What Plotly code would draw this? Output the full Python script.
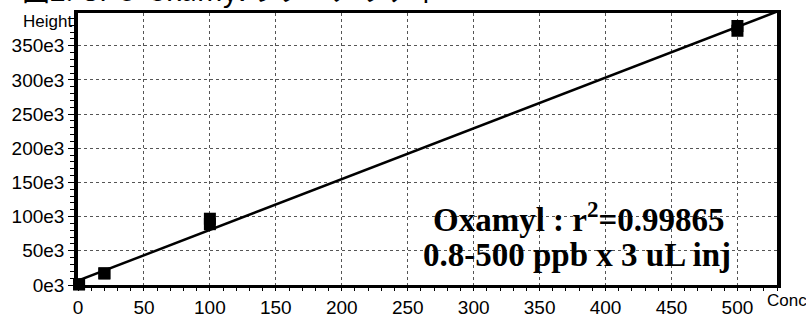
import numpy as np
import plotly.graph_objects as go

# Calibration data: concentration (ppb) vs peak height
conc = [0.8, 0.8, 20, 20, 100, 100, 500, 500]
height = [1000, 1000, 17000, 17000, 97000, 89000, 379000, 372000]

x_ticks = [0, 50, 100, 150, 200, 250, 300, 350, 400, 450, 500]
y_ticks = [0, 50000, 100000, 150000, 200000, 250000, 300000, 350000]
y_tick_text = ["0e3", "50e3", "100e3", "150e3", "200e3", "250e3", "300e3", "350e3"]

x_max = 530
y_max = 398000

title_text = "図2. GPC  Oxamylのリニアリティ"
label_line1 = "<b>Oxamyl : r<sup>2</sup>=0.99865</b>"
label_line2 = "<b>0.8-500 ppb x 3 uL inj</b>"

# Linear regression of height on concentration
slope, intercept = np.polyfit(conc, height, 1)
fit_x = np.array([0, x_max])
fit_y = slope * fit_x + intercept

fig = go.Figure()
fig.add_trace(go.Scatter(
    x=fit_x, y=fit_y, mode="lines",
    line=dict(color="black", width=2.5), showlegend=False,
))
fig.add_trace(go.Scatter(
    x=conc, y=height, mode="markers",
    marker=dict(symbol="square", size=12, color="black"),
    cliponaxis=False, showlegend=False,
))

sans = "Liberation Sans, Arial, sans-serif"
tick_font = dict(family=sans, size=19, color="black")
serif_bold = dict(family="Liberation Serif, Times New Roman, serif", size=33, color="black")

fig.update_layout(
    width=806, height=328,
    margin=dict(l=78, r=29, t=10, b=31),
    paper_bgcolor="white", plot_bgcolor="white",
    xaxis=dict(
        range=[0, x_max], tickvals=x_ticks, tickfont=tick_font,
        showline=True, linewidth=3, linecolor="black", mirror=True,
        showgrid=True, gridcolor="#555555", griddash="dot", gridwidth=0.8,
        ticks="outside", ticklen=3, tickcolor="black",
        minor=dict(dtick=10, ticks="outside", ticklen=3, tickcolor="black", showgrid=False),
        zeroline=False,
    ),
    yaxis=dict(
        range=[0, y_max], tickvals=y_ticks, ticktext=y_tick_text, tickfont=tick_font,
        showline=True, linewidth=3.5, linecolor="black", mirror=True,
        showgrid=True, gridcolor="#555555", griddash="dot", gridwidth=0.8,
        ticks="outside", ticklen=6, tickcolor="black",
        minor=dict(dtick=10000, ticks="outside", ticklen=4, tickcolor="black", showgrid=False),
        zeroline=False,
    ),
    annotations=[
        dict(text=label_line1, x=380, y=100000, xref="x", yref="y",
             showarrow=False, font=serif_bold),
        dict(text=label_line2, x=378, y=44000, xref="x", yref="y",
             showarrow=False, font=serif_bold),
        dict(text="Height", x=0, y=1, xref="paper", yref="paper",
             xanchor="right", yanchor="middle", xshift=-4, yshift=-8,
             showarrow=False, font=dict(family=sans, size=17, color="black")),
        dict(text="Conc", x=1, y=0, xref="paper", yref="paper",
             xanchor="left", yanchor="top", xshift=-12, yshift=-4,
             showarrow=False, font=dict(family=sans, size=17, color="black")),
        dict(text=title_text, x=0, y=1, xref="paper", yref="paper",
             xanchor="left", yanchor="bottom", xshift=-58, yshift=2,
             showarrow=False, font=dict(family="Noto Sans CJK JP, sans-serif", size=28, color="black")),
    ],
)

fig.write_html("out.html")
